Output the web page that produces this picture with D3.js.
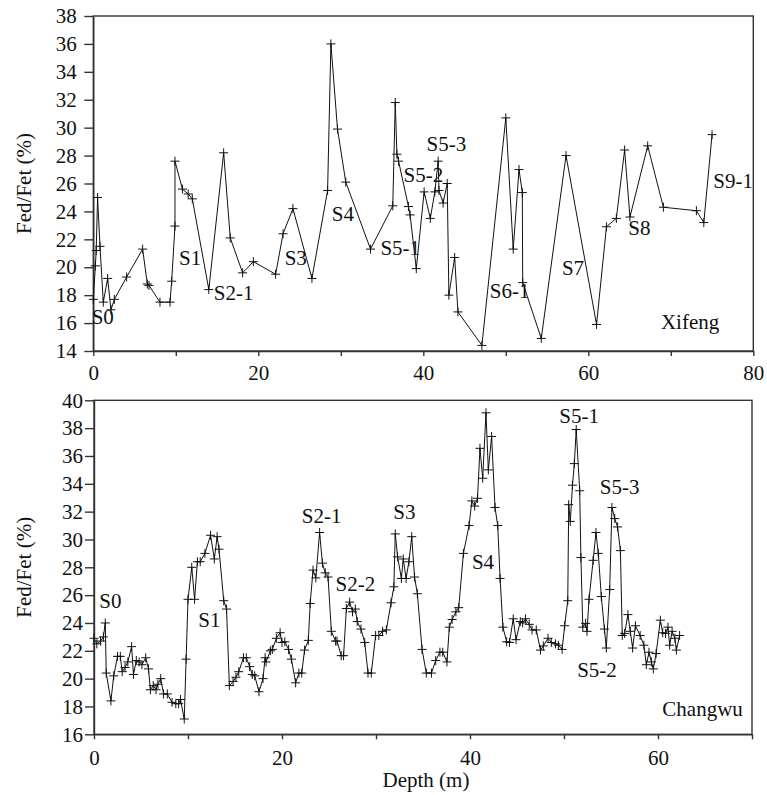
<!DOCTYPE html>
<html lang="en">
<head>
  <meta charset="UTF-8">
  <title>Fed/Fet Xifeng and Changwu</title>
  <script src="https://d3js.org/d3.v7.min.js"></script>
  <style>
    body { margin: 0; background: #fff; }
    text { font-family: 'Liberation Serif', 'DejaVu Serif', 'Times New Roman', Times, serif; font-size: 21px; fill: #111; }
    .frame { fill: none; stroke: #333; stroke-width: 1.4; }
    .series { fill: none; stroke: #111; stroke-width: 1; }
    .mark { stroke: #111; stroke-width: 1; fill: none; }
    .axis path, .axis line { stroke: #333; stroke-width: 1.4; }
  </style>
</head>
<body>
<svg width="767" height="795"></svg>
<script>
  // Xifeng section: depth (m) and Fed/Fet (%)
  const xifengDepth = [0, 0.25, 0.35, 0.52, 0.81, 1.21, 1.74, 2.14, 2.55, 4.04, 5.98, 6.55, 6.75, 8.08, 9.3, 9.5, 9.9, 9.9,
    10.8, 11.5, 12.0, 14.0, 15.8, 16.6, 18.1, 19.4, 22.1, 23.0, 24.2, 26.5, 28.4, 28.8, 29.6, 30.6, 33.6, 36.3, 36.6,
    36.8, 37.0, 38.2, 38.4, 39.15, 40.1, 40.85, 41.4, 41.8, 41.9, 42.4, 42.9, 43.1, 43.8, 44.2, 47.1, 50.0, 50.9, 51.6,
    52.0, 52.05, 54.3, 57.3, 61.0, 62.2, 63.4, 64.4, 65.05, 67.2, 69.1, 73.1, 74.0, 75.0];
  const xifengValue = [17.7, 20.1, 21.2, 25.0, 21.5, 17.5, 19.2, 16.95, 17.7, 19.3, 21.3, 18.8, 18.7, 17.5, 17.5, 19.0, 22.95, 27.6,
    25.6, 25.25, 24.9, 18.4, 28.2, 22.1, 19.6, 20.4, 19.5, 22.4, 24.2, 19.2, 25.5, 36.0, 29.9, 26.1, 21.3, 24.4, 31.8,
    28.1, 27.6, 24.35, 23.75, 19.9, 25.4, 23.5, 25.4, 27.6, 25.5, 24.6, 26.0, 18.0, 20.7, 16.8, 14.4, 30.7, 21.3, 27.0,
    25.35, 18.9, 14.9, 28.0, 15.9, 22.9, 23.5, 28.4, 23.6, 28.7, 24.3, 24.05, 23.2, 29.5];

  // Changwu section: depth (m) and Fed/Fet (%)
  const changwuDepth = [0, 0.3, 0.7, 1.0, 1.2, 1.3, 1.8, 2.1, 2.5, 2.8, 3.0, 3.3, 3.6, 4.0, 4.2, 4.5, 4.8, 5.1, 5.5, 5.8,
    6.0, 6.3, 6.6, 6.8, 7.1, 7.4, 7.8, 8.3, 8.7, 9.0, 9.2, 9.6, 9.8, 10.0, 10.4, 10.7, 11.0, 11.3, 11.8, 12.4, 12.8,
    13.1, 13.3, 13.8, 14.1, 14.4, 14.8, 15.1, 15.4, 15.9, 16.2, 16.56, 16.84, 17.1, 17.55, 17.98, 18.2, 18.3, 18.76,
    18.97, 19.4, 19.8, 20.0, 20.3, 20.7, 21.0, 21.45, 21.8, 22.1, 22.4, 22.8, 23.0, 23.3, 23.6, 24.0, 24.3, 24.6, 24.9,
    25.25, 25.7, 25.85, 26.3, 26.55, 26.85, 27.2, 27.5, 27.8, 28.0, 28.4, 28.8, 29.15, 29.5, 29.96, 30.3, 30.7, 31.1,
    31.6, 31.9, 32.05, 32.3, 32.7, 32.9, 33.2, 33.5, 33.8, 34.1, 34.4, 34.9, 35.35, 35.9, 36.35, 36.8, 37.1, 37.55,
    37.8, 38.1, 38.5, 38.8, 39.3, 39.9, 40.2, 40.5, 40.8, 41.06, 41.35, 41.7, 41.95, 42.3, 42.66, 42.95, 43.2, 43.5,
    43.9, 44.2, 44.6, 44.9, 45.35, 45.6, 45.9, 46.3, 46.6, 47.05, 47.5, 47.8, 48.3, 48.65, 49.1, 49.4, 49.8, 50.07,
    50.4, 50.5, 50.67, 50.9, 51.1, 51.3, 51.67, 51.8, 52.0, 52.3, 52.45, 52.66, 53.1, 53.4, 53.65, 53.97, 54.3, 54.5,
    54.86, 55.1, 55.4, 55.7, 56.0, 56.2, 56.45, 56.8, 57.05, 57.3, 57.6, 58.1, 58.5, 58.76, 59.04, 59.3, 59.5, 59.8,
    60.25, 60.5, 60.8, 61.06, 61.24, 61.5, 61.8, 61.95, 62.3];
  const changwuValue = [22.9, 22.5, 22.7, 23.0, 24.0, 20.4, 18.4, 20.2, 21.6, 21.6, 20.5, 20.8, 21.2, 22.3, 20.3, 21.3, 21.2,
    21.0, 21.5, 20.7, 19.2, 19.5, 19.2, 19.6, 20.0, 18.9, 18.9, 18.3, 18.2, 18.2, 18.5, 17.1, 21.4, 25.7, 28.0, 25.7,
    28.4, 28.4, 29.0, 30.3, 28.6, 30.2, 29.3, 25.6, 25.0, 19.5, 19.8, 20.1, 20.5, 21.5, 21.5, 20.86, 20.3, 20.2, 19.06,
    20.0, 21.5, 21.2, 22.0, 22.1, 22.9, 23.3, 22.6, 22.65, 22.1, 21.4, 19.7, 20.4, 20.4, 22.05, 22.75, 25.4, 27.8, 27.24,
    30.5, 28.3, 27.6, 27.3, 23.4, 22.7, 22.7, 21.65, 21.65, 25.04, 25.5, 24.8, 25.0, 24.1, 23.56, 22.6, 20.4, 20.4,
    23.1, 23.1, 23.4, 23.5, 25.45, 26.6, 30.4, 28.75, 27.2, 28.6, 27.2, 28.4, 30.2, 27.3, 26.1, 22.1, 20.4, 20.4, 21.3,
    21.9, 21.9, 21.2, 23.7, 24.25, 24.8, 25.1, 29.0, 31.0, 32.77, 32.4, 32.96, 36.55, 34.4, 39.1, 35.0, 37.4, 32.3,
    31.0, 27.2, 23.7, 22.65, 22.6, 24.3, 22.8, 24.1, 24.0, 24.3, 23.9, 23.5, 23.5, 22.05, 22.35, 22.9, 22.6, 22.5,
    22.4, 22.1, 23.8, 25.6, 32.5, 31.3, 33.9, 35.45, 37.9, 33.5, 28.7, 23.7, 23.97, 23.4, 25.7, 28.5, 30.5, 29.0, 25.9,
    23.56, 22.2, 26.4, 32.3, 31.5, 30.9, 29.2, 23.1, 23.25, 24.6, 23.4, 22.2, 23.8, 23.1, 22.4, 21.0, 21.9, 21.2, 20.7,
    21.8, 24.2, 23.3, 23.25, 23.7, 22.4, 23.4, 22.9, 22.05, 23.1];

  // soil unit labels, placed in data units (left edge, baseline)
  const xifengLabels = [
    { t: "S0", x: -0.2, y: 15.95 }, { t: "S1", x: 10.4, y: 20.17 }, { t: "S2-1", x: 14.6, y: 17.67 },
    { t: "S3", x: 23.2, y: 20.17 }, { t: "S4", x: 28.9, y: 23.3 }, { t: "S5-1", x: 34.8, y: 20.9 },
    { t: "S5-2", x: 37.6, y: 26.1 }, { t: "S5-3", x: 40.4, y: 28.3 }, { t: "S6-1", x: 48.05, y: 17.8 },
    { t: "S7", x: 56.8, y: 19.45 }, { t: "S8", x: 64.85, y: 22.3 }, { t: "S9-1", x: 75.15, y: 25.66 },
    { t: "Xifeng", x: 68.8, y: 15.6 }
  ];
  const changwuLabels = [
    { t: "S0", x: 0.56, y: 25.06 }, { t: "S1", x: 11.1, y: 23.74 }, { t: "S2-1", x: 22.1, y: 31.16 },
    { t: "S2-2", x: 25.7, y: 26.3 }, { t: "S3", x: 31.84, y: 31.5 }, { t: "S4", x: 40.2, y: 27.9 },
    { t: "S5-1", x: 49.5, y: 38.35 }, { t: "S5-3", x: 53.8, y: 33.3 }, { t: "S5-2", x: 51.4, y: 20.1 },
    { t: "Changwu", x: 60.46, y: 17.3 }
  ];

  const svg = d3.select("svg");
  const serif = "'Liberation Serif', 'DejaVu Serif', serif";
  const cross = "M-4.5,0H4.5M0,-4.5V4.5";

  function panel(opt) {
    const g = svg.append("g");
    const x = d3.scaleLinear().domain(opt.xDomain).range(opt.xRange);
    const y = d3.scaleLinear().domain(opt.yDomain).range(opt.yRange);

    g.append("g").attr("class", "axis")
      .attr("transform", `translate(0,${opt.yRange[0]})`)
      .call(d3.axisBottom(x).tickValues(d3.range(opt.xDomain[0], opt.xDomain[1] + 1, 10))
        .tickSize(5).tickSizeOuter(0).tickPadding(opt.xPad)
        .tickFormat(d => d % 20 === 0 ? d : ""))
      .attr("font-family", serif).attr("font-size", 21);

    g.append("g").attr("class", "axis")
      .attr("transform", `translate(${opt.xRange[0]},0)`)
      .call(d3.axisLeft(y).tickValues(d3.range(opt.yDomain[0], opt.yDomain[1] + 1, 2))
        .tickSize(9).tickSizeOuter(0).tickPadding(opt.yPad))
      .attr("font-family", serif).attr("font-size", 21);

    g.append("rect").attr("class", "frame")
      .attr("x", opt.xRange[0]).attr("y", opt.yRange[1])
      .attr("width", opt.xRange[1] - opt.xRange[0])
      .attr("height", opt.yRange[0] - opt.yRange[1]);

    const pts = opt.depth.map((d, i) => [d, opt.value[i]]);
    g.append("path").attr("class", "series")
      .attr("d", d3.line().x(d => x(d[0])).y(d => y(d[1]))(pts));

    g.selectAll(".mark").data(pts).enter().append("path")
      .attr("class", "mark")
      .attr("d", cross)
      .attr("transform", d => `translate(${x(d[0])},${y(d[1])})`);

    g.selectAll(".lbl").data(opt.labels).enter().append("text")
      .attr("font-family", serif)
      .attr("x", d => x(d.x)).attr("y", d => y(d.y))
      .text(d => d.t);

    svg.append("text")
      .attr("font-family", serif)
      .attr("transform", `translate(31,${(opt.yRange[0] + opt.yRange[1]) / 2}) rotate(-90)`)
      .attr("text-anchor", "middle")
      .text("Fed/Fet (%)");
  }

  panel({
    xDomain: [0, 80], xRange: [93.3, 753.3],
    yDomain: [14, 38], yRange: [351, 16],
    xPad: 9, yPad: 7.5,
    depth: xifengDepth, value: xifengValue, labels: xifengLabels
  });

  panel({
    xDomain: [0, 70], xRange: [94, 752],
    yDomain: [16, 40], yRange: [734.3, 400.3],
    xPad: 11, yPad: 2,
    depth: changwuDepth, value: changwuValue, labels: changwuLabels
  });

  svg.append("text")
    .attr("font-family", serif)
    .attr("x", 426).attr("y", 787)
    .attr("text-anchor", "middle")
    .text("Depth (m)");
</script>
</body>
</html>
